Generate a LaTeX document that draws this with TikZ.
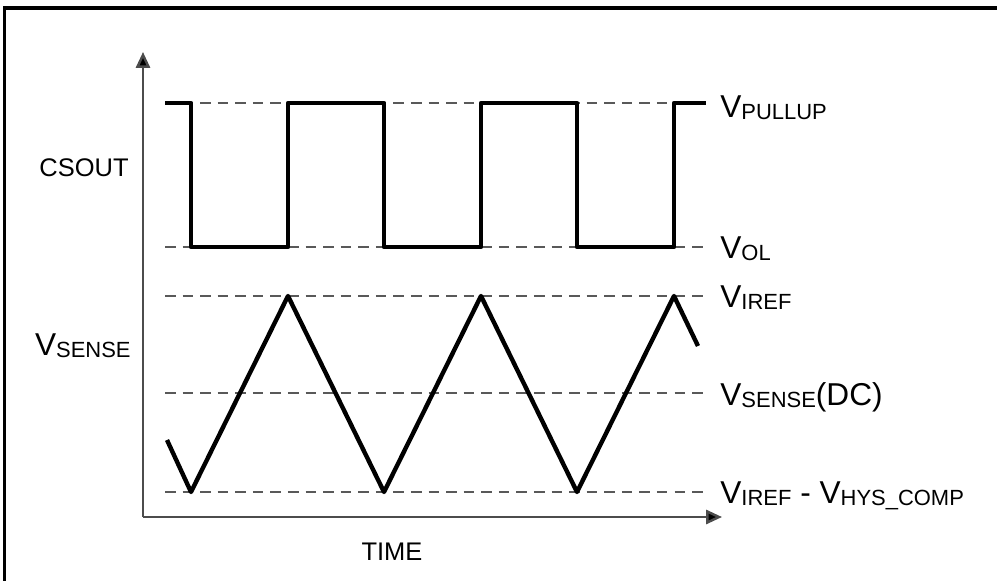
\documentclass[tikz,border=0pt]{standalone}
\usepackage{fontspec}
\setmainfont{Liberation Sans}
\usetikzlibrary{arrows.meta}

\newcommand{\vlab}[1]{V\raisebox{-1.5pt}{\fontsize{12.5}{12.5}\selectfont #1}}

\begin{document}
\begin{tikzpicture}[x=0.02cm,y=-0.02cm,
		sig/.style={line width=2.5pt,line join=round},
		lvl/.style={dash pattern=on 6pt off 4pt,line width=1.5pt,black!65},
		ax/.style={line width=1.4pt,black!70,-{Triangle[length=9pt,width=8pt,fill=black]}},
		lab/.style={anchor=base west,inner sep=0pt,font=\fontsize{18}{18}\selectfont},
		txt/.style={inner sep=0pt,font=\fontsize{14.5}{14.5}\selectfont}]
		\useasboundingbox (0,0) rectangle (997,581);
		\draw[line width=1.8pt] (4.5,581) -- (4.5,8) -- (997,8);
		
		\coordinate (o) at (143,517);
		\draw[ax] (o) -- (143,52);
		\draw[ax] (o) -- (722,517);
		
		\foreach \y in {103,247,296,393,492}
			\draw[lvl] (165,\y) -- (705,\y);
		
		\draw[sig] (165,103) -- (191,103) -- (191,247) -- (288,247) -- (288,103) -- (384,103) -- (384,247) -- (481,247) -- (481,103) -- (577,103) -- (577,247) -- (674,247) -- (674,103) -- (706,103);
		\draw[sig] (167,440) -- (191,492) -- (288,296) -- (384,492) -- (481,296) -- (577,492) -- (674,296) -- (698,346);
		
		\node[lab] (pullup) at (720,117) {\vlab{PULLUP}};
		\node[lab] (ol) at (720,258) {\vlab{OL}};
		\node[lab] (iref) at (720,307) {\vlab{IREF}};
		\node[lab] (sensedc) at (720,405) {\vlab{SENSE}(DC)};
		\node[lab] (hys) at (720,503) {\vlab{IREF} - \vlab{HYS\_COMP}};
		\node[txt,anchor=base east] (csout) at (129,176) {CSOUT};
		\node[lab,anchor=base east] (vsense) at (131,355) {\vlab{SENSE}};
		\node[txt,anchor=base] (time) at (392,560) {TIME};
	\end{tikzpicture}
\end{document}
